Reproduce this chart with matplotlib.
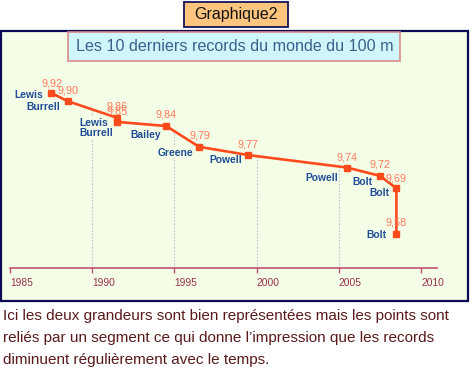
import numpy as np
import matplotlib
matplotlib.use("Agg")
from matplotlib import pyplot as plt
from matplotlib.patches import Rectangle

# records du 100 m (annee, temps, athlete)
years = [1987.5, 1988.5, 1991.5, 1991.5, 1994.5, 1996.5, 1999.5, 2005.5, 2007.5, 2008.5, 2008.5]
times = [9.92, 9.90, 9.86, 9.85, 9.84, 9.79, 9.77, 9.74, 9.72, 9.69, 9.58]
names = ["Lewis", "Burrell", "Lewis", "Burrell", "Bailey", "Greene", "Powell", "Powell", "Bolt", "Bolt", "Bolt"]
xticks = [1985, 1990, 1995, 2000, 2005, 2010]
gridyears = [1990, 1995, 2000, 2005]

W, H = 475, 377
fig = plt.figure(figsize=(W / 100, H / 100), dpi=100)
plt.rcParams['font.family'] = ['Liberation Sans', 'DejaVu Sans']

def fx(px):
    return px / W

def fy(py):
    return 1 - py / H

BG = '#f4fee6'

# cadre du graphique
fig.patches.append(Rectangle((fx(1), fy(301)), fx(467), 270 / H, transform=fig.transFigure,
                             facecolor=BG, edgecolor='#0b0b55', lw=1.6, zorder=-2))

# bouton Graphique2
fig.patches.append(Rectangle((fx(184), fy(27)), fx(104), 25 / H, transform=fig.transFigure,
                             facecolor='#ffc47e', edgecolor='#14145a', lw=1.3, zorder=-1))
fig.text(fx(236), fy(14.5), "Graphique2", ha='center', va='center', fontsize=11.5, color='#111111')

# titre
fig.patches.append(Rectangle((fx(68), fy(61)), fx(332), 29 / H, transform=fig.transFigure,
                             facecolor='#cff6fb', edgecolor='#d98a8a', lw=1.2, zorder=-1))
fig.text(fx(234.5), fy(46.5), "Les 10 derniers records du monde du 100 m", ha='center', va='center',
         fontsize=11.6, color='#3b5f8c')

ax = fig.add_axes([fx(10), fy(268), fx(427), 198 / H])
ax.set_facecolor('none')
ax.set_xlim(1985, 2010.97)
ax.set_ylim(9.498, 9.975)

# lignes pointillees sous la courbe
for g in gridyears:
    yl = np.interp(g, years, times)
    ax.plot([g, g], [9.498, yl], color='#c4c4d0', lw=0.8, ls=(0, (1.5, 1.5)), zorder=1)

ax.plot(years, times, color='#ff4a1c', lw=1.9, marker='s', ms=4.2, zorder=3)

# decalages des etiquettes (points)
val_off = [(0.7, 4.3), (0, 5.8), (0, 5.8), (0, 5), (0, 5.8), (0.5, 5.8), (0, 5.8), (0, 5), (0, 5.8), (0, 5), (0, 5.8)]
name_off = [(-5.8, 2.2), (-5, -0.7), (-6.5, 0), (-3, -4.3), (-3.6, -2.9), (-4.3, -0.7),
            (-4.3, 0), (-6.5, -3.6), (-5.8, -0.7), (-5, 0), (-7.2, 2.9)]

for i, (x, y, n) in enumerate(zip(years, times, names)):
    s = ("%.2f" % y).replace('.', ',')
    ax.annotate(s, (x, y), xytext=val_off[i], textcoords='offset points', ha='center',
                va='baseline', fontsize=7.8, color='#ff7a5c', zorder=4)
    ax.annotate(n, (x, y), xytext=name_off[i], textcoords='offset points', ha='right',
                va='top', fontsize=7.4, fontweight='bold', color='#1f4c96', zorder=2,
                bbox=dict(fc=BG, ec='none', pad=0.5))

for s in ['top', 'right', 'left']:
    ax.spines[s].set_visible(False)
ax.spines['bottom'].set_color('#c05070')
ax.spines['bottom'].set_linewidth(1.2)
ax.set_yticks([])
ax.set_xticks(xticks)
ax.set_xticklabels([str(t) for t in xticks], ha='left')
ax.tick_params(axis='x', colors='#c05070', length=3.6, width=1, labelsize=7.4, labelcolor='#9a3050', pad=3.5)

texte = ["Ici les deux grandeurs sont bien représentées mais les points sont",
         "reliés par un segment ce qui donne l\u2019impression que les records",
         "diminuent régulièrement avec le temps."]
for k, line in enumerate(texte):
    fig.text(fx(3), fy(316 + 22 * k), line, ha='left', va='center', fontsize=11, color='#5a1a1a')

fig.savefig("out.png", dpi=100)
